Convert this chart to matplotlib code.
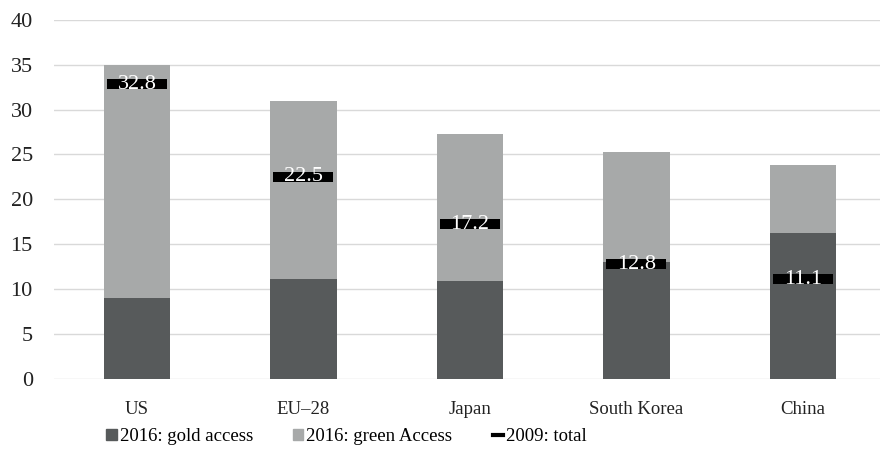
import numpy as np
import matplotlib
matplotlib.use('Agg')
import matplotlib.pyplot as plt
from matplotlib.path import Path
from matplotlib.lines import Line2D
from matplotlib.patches import Patch

regions = ['US', 'EU\u201228', 'Japan', 'South Korea', 'China']
gold_2016 = [9.0, 11.1, 10.9, 13.0, 16.2]
green_2016 = [26.0, 19.8, 16.4, 12.3, 7.6]
total_2009 = [32.8, 22.5, 17.2, 12.8, 11.1]

plt.rcParams['font.family'] = ['Liberation Serif', 'DejaVu Serif']

gold_color = '#575a5b'
green_color = '#a7a9a9'

fig = plt.figure(figsize=(8.8, 4.49), dpi=100)
ax = fig.add_axes([0.061, 0.156, 0.946, 0.80])

x = np.arange(len(regions))
ax.bar(x, gold_2016, width=0.4, color=gold_color, zorder=2)
ax.bar(x, green_2016, width=0.4, bottom=gold_2016, color=green_color, zorder=2)

# wide flat box marker for the 2009 totals
box = Path([(-3, -0.5), (3, -0.5), (3, 0.5), (-3, 0.5), (-3, -0.5)],
           [Path.MOVETO, Path.LINETO, Path.LINETO, Path.LINETO, Path.CLOSEPOLY])
ax.plot(x, total_2009, linestyle='none', marker=box, markersize=43,
        color='black', markeredgewidth=0, zorder=3)
for xi, v in zip(x, total_2009):
    ax.text(xi, v, f'{v}', ha='center', va='center', color='white',
            fontsize=16, zorder=4)

ax.set_ylim(0, 40)
ax.set_xlim(-0.5, len(regions) - 0.5)
ax.set_yticks(range(0, 41, 5))
ax.set_xticks(x)
ax.set_xticklabels(regions)
ax.yaxis.grid(True, color='#d9d9d9', linewidth=1, zorder=0)
ax.set_axisbelow(True)
for s in ax.spines.values():
    s.set_visible(False)
ax.tick_params(length=0, colors='#222222')
ax.tick_params(axis='y', pad=15, labelsize=16)
ax.tick_params(axis='x', pad=16, labelsize=13.5)

handles = [
    Patch(color=gold_color, label='2016: gold access'),
    Patch(color=green_color, label='2016: green Access'),
    Line2D([], [], color='black', linewidth=3, label='2009: total'),
]
fig.legend(handles=handles, loc='center left', bbox_to_anchor=(0.121, 0.027),
           ncol=3, frameon=False, fontsize=13.5, handlelength=0.55,
           handleheight=0.55, handletextpad=0.15, columnspacing=2.15,
           borderpad=0, borderaxespad=0)

fig.savefig('out.png', dpi=100)
